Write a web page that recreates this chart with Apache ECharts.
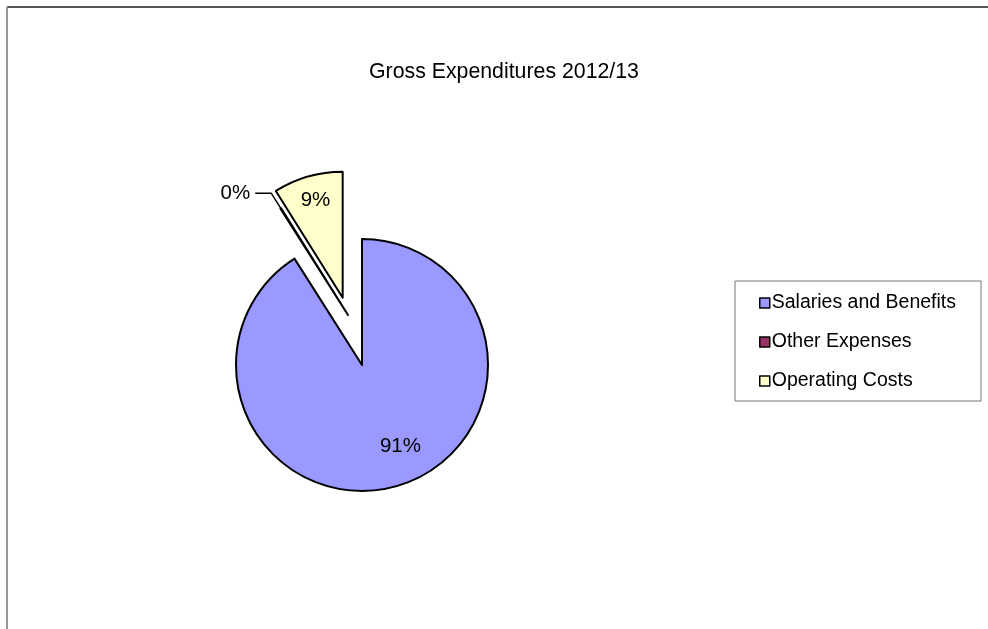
<!DOCTYPE html>
<html>
<head>
<meta charset="utf-8">
<script src="https://cdn.jsdelivr.net/npm/echarts@6/dist/echarts.min.js"></script>
<style>
html,body{margin:0;padding:0;background:#fff;}
#chart{width:988px;height:629px;}
</style>
</head>
<body>
<div id="chart"></div>
<script>
const chartTitle = 'Gross Expenditures 2012/13';
const categories = ['Salaries and Benefits', 'Other Expenses', 'Operating Costs'];
const values = [91, 0.1, 8.9];
const colors = ['#9999FF', '#993366', '#FFFFCC'];

const FONT = '"Liberation Sans", Arial, sans-serif';
const chart = echarts.init(document.getElementById('chart'));

const baseLabel = { color: '#000', fontSize: 20.5, fontFamily: FONT, formatter: '{d}%' };
const hidden = { color: 'transparent', borderWidth: 0 };
// label nudges (style only) for the inside labels of the main pie
const insideShift = [[20, 18], [0, 0], [-9, -34]];

const mainData = categories.map(function (name, i) {
  if (i === 1) {
    return { name: name, value: values[i], itemStyle: hidden, label: { show: false }, labelLine: { show: false } };
  }
  return { name: name, value: values[i], selected: i === 2, itemStyle: { color: colors[i] },
    label: { show: true, position: 'inside' } };
});

const sliverData = categories.map(function (name, i) {
  if (i === 1) {
    return { name: name, value: values[i], itemStyle: { color: colors[i] },
      label: { show: true, position: 'outside' },
      labelLine: { show: true, length: 18, length2: 16, lineStyle: { color: '#000', width: 1.5 } } };
  }
  return { name: name, value: values[i], itemStyle: hidden, label: { show: false }, labelLine: { show: false } };
});

chart.setOption({
  animation: false,
  backgroundColor: '#fff',
  title: {
    text: chartTitle,
    left: 364,
    top: 57,
    textStyle: { fontFamily: FONT, fontSize: 21.3, fontWeight: 'normal', color: '#000' }
  },
  legend: {
    orient: 'vertical',
    left: 735,
    top: 281,
    padding: [11, 25, 9, 24],
    itemGap: 17,
    itemWidth: 10,
    itemHeight: 10,
    icon: 'rect',
    borderColor: '#777',
    borderWidth: 1,
    selectedMode: false,
    textStyle: { fontFamily: FONT, fontSize: 19.5, color: '#000', padding: [0, 0, 0, -3], lineHeight: 22 },
    data: categories.map(function (name, i) {
      return { name: name, itemStyle: { color: colors[i], borderColor: '#000', borderWidth: 1.5 } };
    })
  },
  graphic: [
    { type: 'line', shape: { x1: 7, y1: 7, x2: 988, y2: 7 }, style: { stroke: '#555', lineWidth: 2 }, silent: true },
    { type: 'line', shape: { x1: 7, y1: 7, x2: 7, y2: 629 }, style: { stroke: '#999', lineWidth: 2 }, silent: true }
  ],
  series: [
    {
      type: 'pie',
      center: [362, 365],
      radius: 126,
      startAngle: 90,
      clockwise: true,
      selectedMode: 'multiple',
      selectedOffset: 70,
      avoidLabelOverlap: false,
      percentPrecision: 0,
      silent: true,
      itemStyle: { borderColor: '#000', borderWidth: 2 },
      label: baseLabel,
      labelLine: { show: false },
      labelLayout: function (params) {
        const s = insideShift[params.dataIndex];
        return { dx: s[0], dy: s[1] };
      },
      emphasis: { disabled: true },
      data: mainData
    },
    {
      type: 'pie',
      center: [348, 315],
      radius: 126,
      startAngle: 90,
      clockwise: true,
      avoidLabelOverlap: false,
      percentPrecision: 0,
      silent: true,
      itemStyle: { borderColor: '#000', borderWidth: 2 },
      label: baseLabel,
      emphasis: { disabled: true },
      data: sliverData
    }
  ]
});
</script>
</body>
</html>
